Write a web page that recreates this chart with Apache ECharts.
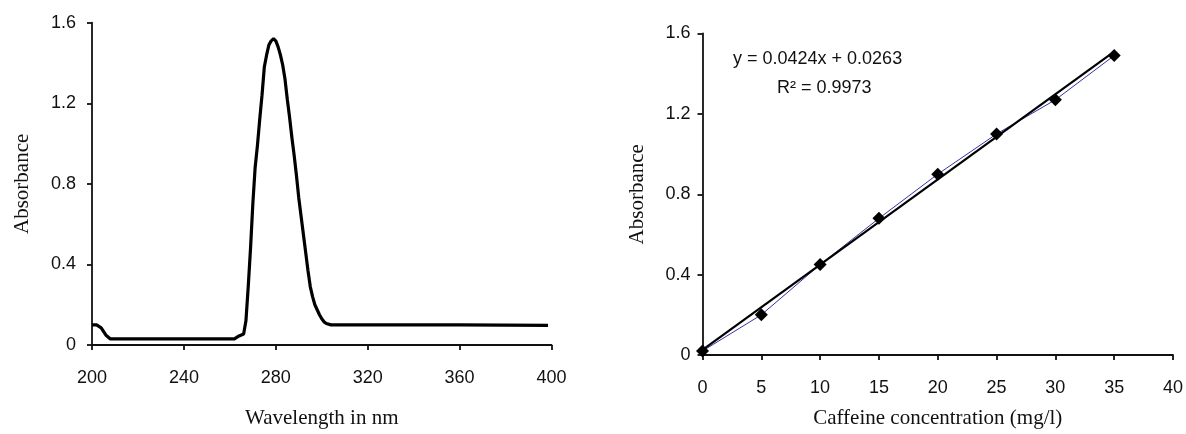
<html lang="en">
<head>
    <meta charset="UTF-8">
    <title>Caffeine absorbance</title>
    <script type="text/javascript" src="https://cdn.jsdelivr.net/npm/echarts@6/dist/echarts.min.js"></script>
</head>
<style>
    html, body { margin: 0; padding: 0; background: #fff; }
    #container { width: 1186px; height: 434px; }
</style>
<body>
<div id="container"></div>
<script>
    // left: UV spectrum
    var wavelength = [200, 202, 204, 206, 208, 210, 262, 264, 266, 267, 268, 269, 270, 271, 272, 273, 274, 275, 276, 277, 278, 279,
        280, 281, 282, 283, 284, 285, 286, 287, 288, 289, 290, 291, 292, 293, 294, 295, 296, 297, 298, 299, 300, 301, 302, 304, 306, 360, 398.5];
    var spectrum = [0.10, 0.10, 0.085, 0.05, 0.03, 0.03, 0.03, 0.045, 0.055, 0.12, 0.29, 0.48, 0.70, 0.88, 0.99, 1.12, 1.24, 1.38, 1.44, 1.49, 1.51, 1.52,
        1.51, 1.48, 1.44, 1.39, 1.32, 1.22, 1.13, 1.03, 0.94, 0.84, 0.73, 0.64, 0.55, 0.46, 0.37, 0.29, 0.24, 0.20, 0.175, 0.15, 0.13, 0.115, 0.107, 0.10, 0.10, 0.10, 0.097];

    // right: calibration
    var concentration = [0, 5, 10, 15, 20, 25, 30, 35];
    var absorbance = [0.02, 0.20, 0.45, 0.68, 0.90, 1.10, 1.27, 1.49];
    var trendX = [0, 35];
    var trendY = [0.026, 1.51];

    var chart = echarts.init(document.getElementById('container'));

    var tickFont = {color: '#111', fontSize: 18, fontFamily: 'Liberation Sans, Arial'};
    var nameFont = {color: '#111', fontSize: 21, fontFamily: 'Liberation Serif, Times New Roman'};
    var axisLine = {lineStyle: {color: '#111', width: 1.8}};
    var tick = {inside: false, length: 5, lineStyle: {color: '#111', width: 1.8}};

    function pairs(xs, ys) {
        return xs.map(function (x, i) { return [x, ys[i]]; });
    }

    var option = {
        backgroundColor: '#fff',
        animation: false,
        grid: [
            {left: 92, top: 22.7, width: 459.5, height: 325.3},
            {left: 702.5, top: 33.5, width: 470.5, height: 325}
        ],
        xAxis: [
            {
                gridIndex: 0, type: 'value', min: 200, max: 400, interval: 40,
                name: 'Wavelength in nm', nameLocation: 'middle', nameGap: 63, nameTextStyle: nameFont,
                axisLine: axisLine, axisTick: tick, splitLine: {show: false},
                axisLabel: Object.assign({margin: 24}, tickFont)
            },
            {
                gridIndex: 1, type: 'value', min: 0, max: 40, interval: 5,
                name: 'Caffeine concentration (mg/l)', nameLocation: 'middle', nameGap: 53, nameTextStyle: nameFont,
                axisLine: axisLine, axisTick: tick, splitLine: {show: false},
                axisLabel: Object.assign({margin: 24}, tickFont)
            }
        ],
        yAxis: [
            {
                gridIndex: 0, type: 'value', min: 0, max: 1.6, interval: 0.4,
                name: 'Absorbance', nameLocation: 'middle', nameGap: 59, nameTextStyle: nameFont,
                axisLine: axisLine, axisTick: tick, splitLine: {show: false},
                axisLabel: Object.assign({margin: 16}, tickFont)
            },
            {
                gridIndex: 1, type: 'value', min: 0, max: 1.6, interval: 0.4,
                name: 'Absorbance', nameLocation: 'middle', nameGap: 55, nameTextStyle: nameFont,
                axisLine: axisLine, axisTick: tick, splitLine: {show: false},
                axisLabel: Object.assign({margin: 12}, tickFont)
            }
        ],
        graphic: [
            {
                type: 'text', left: 733, top: 50,
                style: {text: 'y = 0.0424x + 0.0263', fill: '#111', font: '18px "Liberation Sans", Arial'}
            },
            {
                type: 'text', left: 777, top: 79,
                style: {text: 'R\u00b2 = 0.9973', fill: '#111', font: '18px "Liberation Sans", Arial'}
            }
        ],
        series: [
            {
                type: 'line', xAxisIndex: 0, yAxisIndex: 0,
                data: pairs(wavelength, spectrum),
                showSymbol: false, symbol: 'none',
                lineStyle: {color: '#000', width: 3.2}
            },
            {
                type: 'line', xAxisIndex: 1, yAxisIndex: 1,
                data: pairs(concentration, absorbance),
                symbol: 'diamond', symbolSize: 13,
                itemStyle: {color: '#000'},
                lineStyle: {color: '#3333aa', width: 1}
            },
            {
                type: 'line', xAxisIndex: 1, yAxisIndex: 1,
                data: pairs(trendX, trendY),
                symbol: 'none', z: 3,
                lineStyle: {color: '#000', width: 2.2}
            }
        ]
    };

    chart.setOption(option);
</script>
</body>
</html>
